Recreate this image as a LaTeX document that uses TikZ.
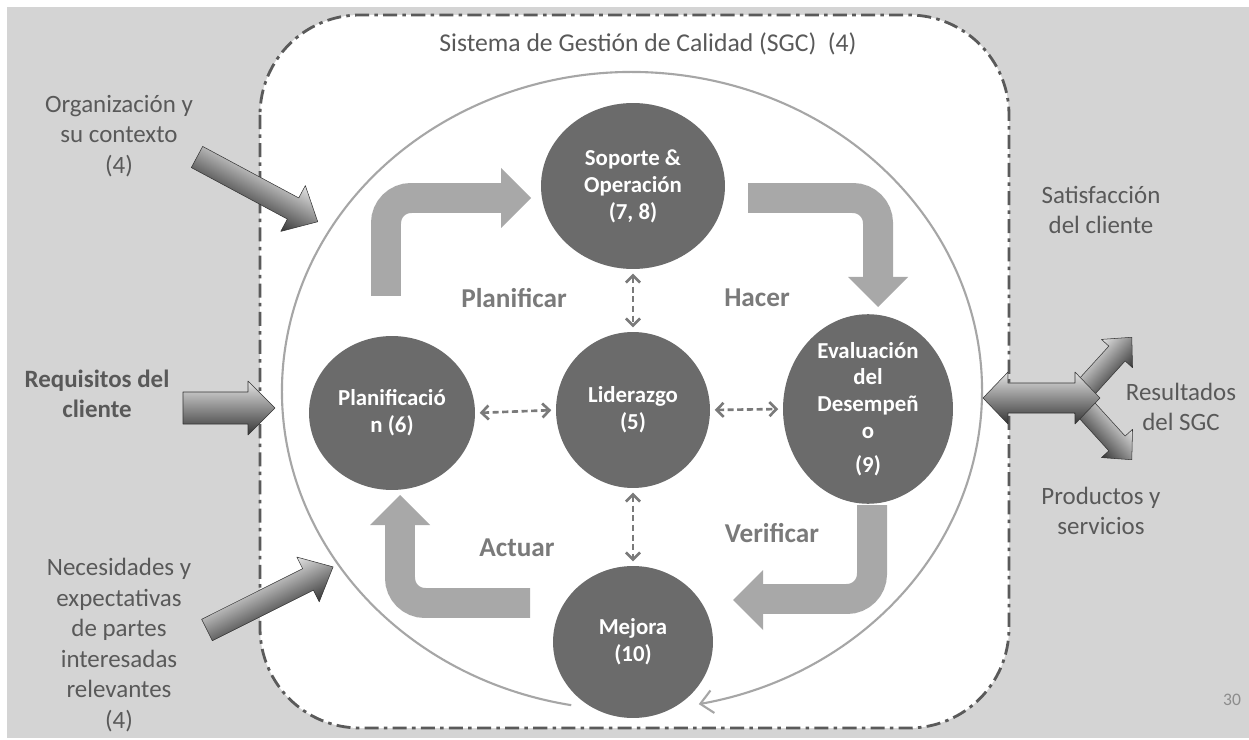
\documentclass[tikz,border=0pt]{standalone}
\usepackage{fontspec}
\setmainfont{Carlito}
\usetikzlibrary{shapes.geometric,arrows.meta}

\definecolor{pagebg}{HTML}{D4D4D4}
\definecolor{boxline}{HTML}{5A5A5A}
\definecolor{txtgray}{HTML}{595959}
\definecolor{phasegray}{HTML}{7A7A7A}
\definecolor{nodegray}{HTML}{6B6B6B}
\definecolor{flowgray}{HTML}{A8A8A8}
\definecolor{cyclegray}{HTML}{A6A6A6}
\definecolor{linkgray}{HTML}{7A7A7A}
\definecolor{numgray}{HTML}{8C8C8C}
\definecolor{arrlight}{HTML}{E4E4E4}
\definecolor{arrmid}{HTML}{9A9A9A}
\definecolor{arrdark}{HTML}{353535}

% bevelled 3D block arrow: x, y, angle, length, shaft half width, head half width, head length
\newcommand\bevelarrow[7]{%
  \begin{scope}[transform canvas={shift={(#1,#2)},rotate=#3}]
    \shade[top color=arrlight, middle color=arrmid, bottom color=arrdark,
           draw=arrdark, line width=0.3pt, line join=round]
      (0,-#5) -- ({#4-#7},-#5) -- ({#4-#7},-#6) -- (#4,0) --
      ({#4-#7},#6) -- ({#4-#7},#5) -- (0,#5) -- cycle;
  \end{scope}}

\tikzset{
  outlbl/.style={align=center, text=txtgray, inner sep=0pt,
                 font=\fontsize{14.2}{17.4}\selectfont},
  phase/.style={text=phasegray, inner sep=0pt,
                font=\bfseries\fontsize{15.5}{18}\selectfont},
  clause/.style={ellipse, fill=nodegray, text=white, align=center, inner sep=0pt,
                 font=\bfseries\fontsize{13}{15.3}\selectfont},
  linkarr/.style={draw=linkgray, line width=1.5pt, dash pattern=on 3.5pt off 2pt,
                  {Straight Barb[length=4pt,width=8pt]}-{Straight Barb[length=4pt,width=8pt]},
                  shorten <=2.5pt, shorten >=2.5pt},
  flowarr/.style={draw=flowgray, line width=0.6cm, rounded corners=0.5cm},
  flowhead/.style={fill=flowgray},
  sgcbox/.style={draw=boxline, fill=white, line width=1.6pt, rounded corners=2cm,
                 dash pattern=on 8pt off 3pt on 2pt off 3pt},
}

\begin{document}
\begin{tikzpicture}[x=0.02cm, y=-0.02cm]
  \useasboundingbox (0,0) rectangle (1249,740);
  \fill[white] (0,0) rectangle (1249,740);
  \fill[pagebg] (7,7) rectangle (1249,738);

  % quality management system boundary
  \draw[sgcbox] (260,15) rectangle (1009,728);
  \node[outlbl, font=\fontsize{14.6}{17}\selectfont] (title) at (648,44)
    {Sistema de Gestión de Calidad (SGC)\ \ (4)};

  % PDCA cycle ring ending on Mejora
  \draw[cyclegray, line width=1.2pt, -{Straight Barb[length=7pt,width=13pt]}]
    (632,391) ++(100:350 and 319)
    arc[start angle=100, end angle=439, x radius=350, y radius=319];

  % bent flow arrows
  \draw[flowarr] (386,296) -- (386,198) -- (502,198);
  \fill[flowhead] (501,168) -- (531,198) -- (501,228) -- cycle;
  \draw[flowarr] (748,198) -- (878,198) -- (878,278);
  \fill[flowhead] (848,277) -- (908,277) -- (878,307) -- cycle;
  \draw[flowarr] (872,505) -- (872,599) -- (762,599);
  \fill[flowhead] (763,570) -- (733,600) -- (763,630) -- cycle;
  \draw[flowarr] (530,603) -- (400,603) -- (400,524);
  \fill[flowhead] (370,525) -- (400,495) -- (430,525) -- cycle;

  % clauses
  \node[clause, minimum width=3.68cm, minimum height=3.32cm] (sop) at (633,186)
    {Soporte \&\\Operación\\(7, 8)};
  \node[clause, minimum width=3.08cm, minimum height=3.12cm] (lid) at (633,410)
    {Liderazgo\\(5)};
  \node[clause, minimum width=3.32cm, minimum height=3.08cm] (pla) at (392,413)
    {Planificació\\n (6)};
  \node[clause, minimum width=3.4cm, minimum height=2.96cm] (eva) at (868,409)
    {Evaluación\\del\\Desempeñ\\o\\[4pt](9)};
  \node[clause, minimum width=3.2cm, minimum height=3.04cm] (mej) at (633,642)
    {Mejora\\(10)};

  % links with Liderazgo
  \draw[linkarr] (sop.south) -- (lid.north);
  \draw[linkarr] (lid.south) -- (mej.north);
  \draw[linkarr] (pla.east) -- (lid.west);
  \draw[linkarr] (lid.east) -- (eva.west);

  % PDCA phases
  \node[phase] (p-plan) at (514,298) {Planificar};
  \node[phase] (p-do) at (757,298) {Hacer};
  \node[phase] (p-check) at (772,533) {Verificar};
  \node[phase] (p-act) at (517,548) {Actuar};

  % inputs
  \node[outlbl] (org) at (119,136) {Organización y\\su contexto\\(4)};
  \node[outlbl, font=\bfseries\fontsize{14.2}{17.4}\selectfont] (req) at (97,394)
    {Requisitos del\\cliente};
  \node[outlbl] (nec) at (119,645)
    {Necesidades y\\expectativas\\de partes\\interesadas\\relevantes\\(4)};
  \bevelarrow{197}{157}{-28.2}{137}{12}{26}{28}
  \bevelarrow{183}{408}{0}{92}{16}{27}{27}
  \bevelarrow{207}{630}{26.6}{141}{12}{25}{28}

  % outputs
  \node[outlbl] (sat) at (1101,210) {Satisfacción\\del cliente};
  \node[outlbl] (res) at (1181,407) {Resultados\\del SGC};
  \node[outlbl] (prod) at (1101,511) {Productos y\\servicios};
  \bevelarrow{1082}{392}{47.7}{74}{11}{21}{22}
  \bevelarrow{1082}{405}{-47.7}{74}{11}{21}{22}
  \shade[top color=arrlight, middle color=arrmid, bottom color=arrdark,
         draw=arrdark, line width=0.3pt, line join=round]
    (983,398) -- (1008,372) -- (1008,383) -- (1075,383) -- (1075,372) --
    (1100,398) -- (1075,424) -- (1075,413) -- (1008,413) -- (1008,424) -- cycle;

  \node[text=numgray, font=\fontsize{10}{12}\selectfont] (pagenum) at (1232,700) {30};
\end{tikzpicture}
\end{document}
